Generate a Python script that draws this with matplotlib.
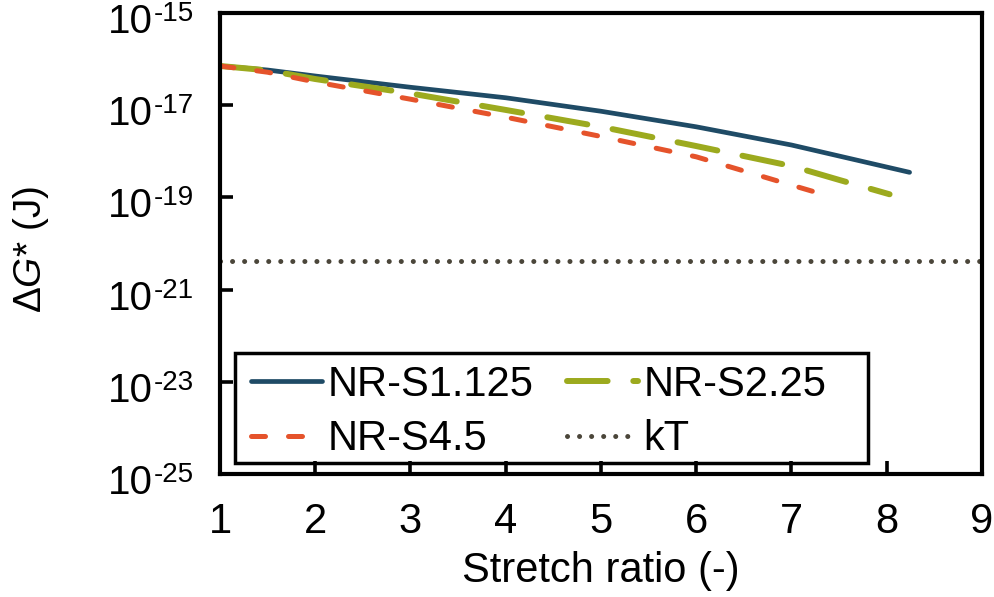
import matplotlib
matplotlib.use("Agg")
import matplotlib.pyplot as plt
from matplotlib.patches import Rectangle
from matplotlib.ticker import FixedLocator, NullFormatter
from matplotlib.transforms import offset_copy

plt.rcParams["font.family"] = ["Liberation Sans", "DejaVu Sans"]
plt.rcParams["mathtext.fontset"] = "custom"
plt.rcParams["mathtext.rm"] = "Liberation Sans"
plt.rcParams["mathtext.it"] = "Liberation Sans:italic"

# data (energy barrier in J)
x_s1125 = [1, 1.5, 2, 3, 4, 5, 6, 7, 8.24]
g_s1125 = [7.1e-17, 5.8e-17, 4.3e-17, 2.45e-17, 1.45e-17, 7.4e-18, 3.4e-18, 1.37e-18, 3.5e-19]

x_s225 = [1, 1.5, 2, 3, 4, 5, 6, 7, 7.5, 8.03]
g_s225 = [7.1e-17, 5.7e-17, 3.7e-17, 1.8e-17, 7.9e-18, 3.4e-18, 1.3e-18, 4.8e-19, 2.4e-19, 1.17e-19]

x_s45 = [1, 1.5, 2, 3, 4, 5, 6, 7, 7.44]
g_s45 = [7.1e-17, 5.2e-17, 3.2e-17, 1.35e-17, 5.5e-18, 2.1e-18, 7.6e-19, 1.85e-19, 1.0e-19]

kT = 1.380649e-23 * 300  # J

x_ticks = list(range(1, 10))
y_exps = [-25, -23, -21, -19, -17, -15]

fig = plt.figure(figsize=(9.95, 5.97), dpi=100)
ax = fig.add_axes([0.2211, 0.2060, 0.7658, 0.7722])

l1, = ax.plot(x_s1125, g_s1125, color="#1F4B66", lw=3.4,
              solid_capstyle="round", label="NR-S1.125")
l2, = ax.plot(x_s225, g_s225, color="#9CAA1E", lw=4.3, dashes=(6.8, 4.3),
              dash_capstyle="round", label="NR-S2.25")
l3, = ax.plot(x_s45, g_s45, color="#E5532B", lw=3.6, dashes=(2.8, 4.6),
              dash_capstyle="round", label="NR-S4.5")
l4 = ax.axhline(kT, color="#4B463A", lw=3.6, dashes=(0.01, 2.4),
                dash_capstyle="round", label="kT")

ax.set_yscale("log")
ax.set_xlim(1, 9)
ax.set_ylim(1e-25, 1e-15)
ax.xaxis.set_major_locator(FixedLocator(x_ticks))
ax.yaxis.set_major_locator(FixedLocator([10.0**e for e in y_exps]))
ax.yaxis.set_minor_locator(FixedLocator([]))
ax.yaxis.set_major_formatter(NullFormatter())
ax.yaxis.set_minor_formatter(NullFormatter())

# y tick labels as "10" + raised exponent
ytr = ax.get_yaxis_transform()
for e in y_exps:
    ax.text(0, 10.0**e, "10", fontsize=29, ha="right", va="baseline",
            transform=offset_copy(ytr, fig, x=-48, y=-14.4, units="points"),
            clip_on=False)
    ax.text(0, 10.0**e, "-%d" % abs(e), fontsize=20, ha="left", va="baseline",
            transform=offset_copy(ytr, fig, x=-47.5, y=-5.8, units="points"),
            clip_on=False)

for s in ax.spines.values():
    s.set_linewidth(3.0)
ax.tick_params(direction="in", length=9.5, width=2.6, labelsize=30)
ax.tick_params(axis="x", pad=20)

ax.set_xlabel("Stretch ratio (-)", fontsize=30, labelpad=6.5)
ax.set_ylabel(r"Δ$\mathit{G}$* (J)", fontsize=28)
ax.yaxis.set_label_coords(-0.222, 0.486)

# row-wise order in the legend: S1.125, S2.25 / S4.5, kT
ax.legend([l1, l3, l2, l4], ["NR-S1.125", "NR-S4.5", "NR-S2.25", "kT"],
          ncol=2, fontsize=30, frameon=False, loc="upper left",
          bbox_to_anchor=(0.0197, 0.271), borderaxespad=0,
          borderpad=0.38, handlelength=1.7, handletextpad=0.14,
          columnspacing=0.8, labelspacing=0.34)
ax.add_patch(Rectangle((0.0197, 0.024), 0.8307, 0.238, transform=ax.transAxes,
                       fill=False, ec="black", lw=2.5, zorder=5))

fig.savefig("out.png", dpi=100)
